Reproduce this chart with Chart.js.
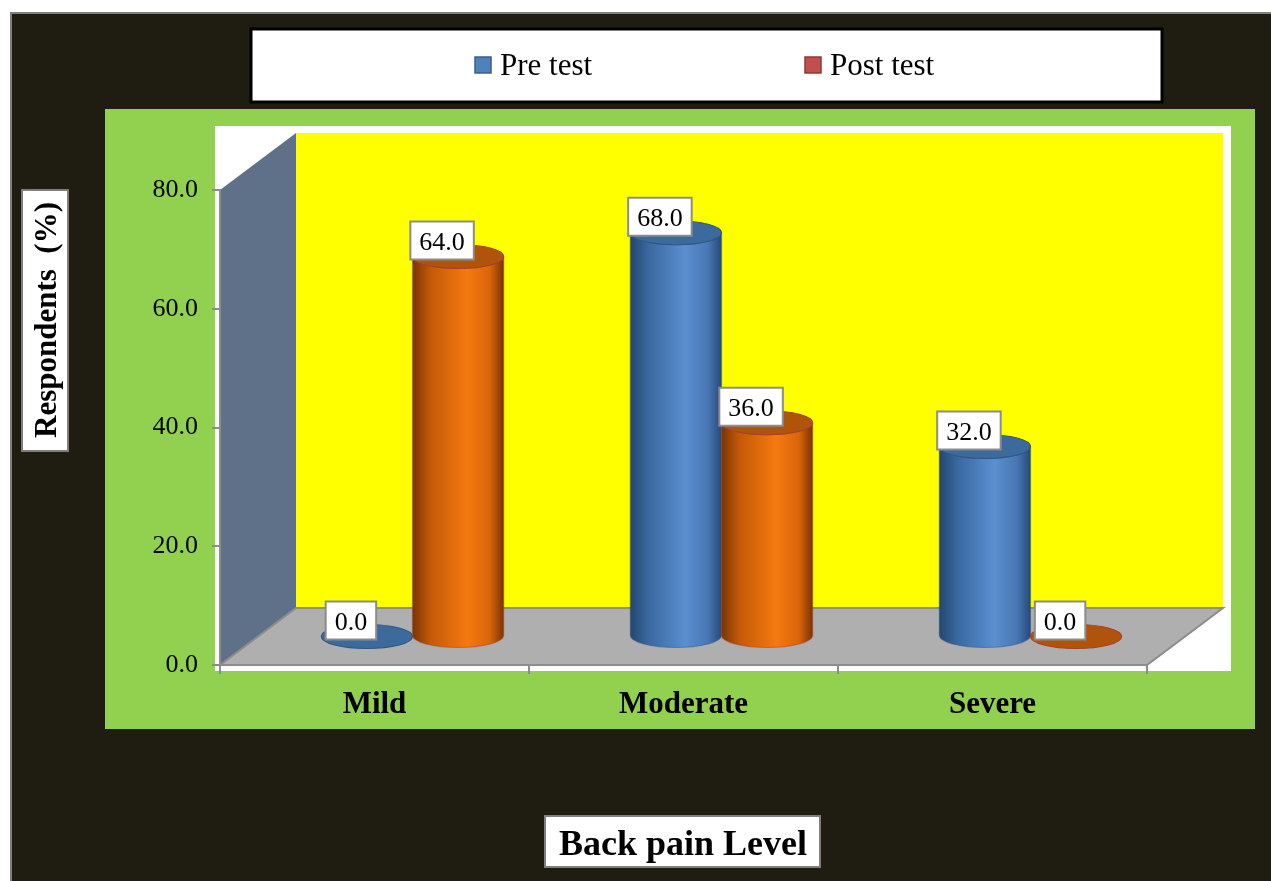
<!DOCTYPE html>
<html>
<head>
<meta charset="utf-8">
<script src="https://cdn.jsdelivr.net/npm/chart.js@4.4.0/dist/chart.umd.min.js"></script>
<style>
  html, body { margin: 0; padding: 0; background: #fff; }
  #wrap { position: relative; width: 1271px; height: 881px; }
</style>
</head>
<body>
<div id="wrap"><canvas id="myChart" width="1271" height="881"></canvas></div>
<script>
const categories = ['Mild', 'Moderate', 'Severe'];
const preTest = [0.0, 68.0, 32.0];
const postTest = [64.0, 36.0, 0.0];
const yTicks = [0, 20, 40, 60, 80];
const seriesNames = ['Pre test', 'Post test'];
const xTitle = 'Back pain Level';
const yTitle = 'Respondents  (%)';

const serif = '"Liberation Serif", "Times New Roman", serif';
const DX = 76, DY = 57; // depth of the 3d box

const looks = [
  { legend: '#4f81bd', legendEdge: '#385d8a', edge: '#2c5684', top: '#3d6a9d',
    stops: ['#25476f', '#3a68a0', '#5b8fd0', '#4877b4', '#28497a'] },
  { legend: '#c0504d', legendEdge: '#8c3836', edge: '#a5402a', top: '#b0540c',
    stops: ['#7a3405', '#c45a08', '#f5790f', '#d9650a', '#7a3305'] }
];

function drawCylinder(ctx, cx, top, base, rx, ry, look) {
  ctx.save();
  ctx.lineWidth = 1.2;
  ctx.strokeStyle = look.edge;
  if (base - top > 0.5) {
    const g = ctx.createLinearGradient(cx - rx, 0, cx + rx, 0);
    const pos = [0, 0.2, 0.6, 0.85, 1];
    look.stops.forEach((c, k) => g.addColorStop(pos[k], c));
    ctx.beginPath();
    ctx.moveTo(cx - rx, top);
    ctx.lineTo(cx - rx, base);
    ctx.ellipse(cx, base, rx, ry, 0, Math.PI, 0, true);
    ctx.lineTo(cx + rx, top);
    ctx.ellipse(cx, top, rx, ry, 0, 0, Math.PI, false);
    ctx.closePath();
    ctx.fillStyle = g;
    ctx.fill();
    ctx.globalAlpha = 0.5;
    ctx.stroke();
    ctx.globalAlpha = 1;
  }
  ctx.beginPath();
  ctx.ellipse(cx, top, rx, ry, 0, 0, Math.PI * 2);
  ctx.fillStyle = look.top;
  ctx.fill();
  ctx.stroke();
  ctx.restore();
}

const backdrop = {
  id: 'backdrop',
  beforeDraw(chart) {
    const { ctx, chartArea: a } = chart;
    ctx.save();
    // dark frame
    ctx.fillStyle = '#7f7f7f';
    ctx.fillRect(10, 12, 1261, 869);
    ctx.fillStyle = '#1f1c12';
    ctx.fillRect(12, 14, 1259, 867);
    // green band
    ctx.fillStyle = '#92d050';
    ctx.fillRect(105, 109, 1150, 620);
    // white plot area
    ctx.fillStyle = '#fff';
    ctx.fillRect(a.left - 5, a.top - DY - 7, a.right + DX + 8 - (a.left - 5), a.bottom + 6 - (a.top - DY - 7));
    // back wall
    ctx.fillStyle = '#ffff00';
    ctx.fillRect(a.left + DX, a.top - DY, a.right - a.left, a.bottom - a.top);
    // side wall
    ctx.fillStyle = '#5f7189';
    ctx.beginPath();
    ctx.moveTo(a.left, a.top);
    ctx.lineTo(a.left + DX, a.top - DY);
    ctx.lineTo(a.left + DX, a.bottom - DY);
    ctx.lineTo(a.left, a.bottom);
    ctx.closePath();
    ctx.fill();
    // floor
    ctx.fillStyle = '#afafaf';
    ctx.strokeStyle = '#8c8c8c';
    ctx.lineWidth = 2;
    ctx.beginPath();
    ctx.moveTo(a.left, a.bottom);
    ctx.lineTo(a.left + DX, a.bottom - DY);
    ctx.lineTo(a.right + DX, a.bottom - DY);
    ctx.lineTo(a.right, a.bottom);
    ctx.closePath();
    ctx.fill();
    ctx.stroke();
    ctx.restore();
  }
};

const cylinders = {
  id: 'cylinders',
  afterDatasetsDraw(chart) {
    const ctx = chart.ctx;
    const hx = DX / 2, hy = DY / 2;
    const tags = [];
    chart.data.datasets.forEach((ds, i) => {
      chart.getDatasetMeta(i).data.forEach((bar, j) => {
        const cx = bar.x + hx, top = bar.y - hy, base = bar.base - hy;
        drawCylinder(ctx, cx, top, base, bar.width / 2, 12, looks[i]);
        tags.push({ x: cx - 16, y: top - 16, text: ds.data[j].toFixed(1) });
      });
    });
    ctx.save();
    ctx.font = '26px ' + serif;
    ctx.textAlign = 'center';
    ctx.textBaseline = 'alphabetic';
    tags.forEach(t => {
      const w = ctx.measureText(t.text).width + 18, h = 38;
      ctx.fillStyle = '#fff';
      ctx.fillRect(t.x - w / 2, t.y - h / 2, w, h);
      ctx.strokeStyle = '#8c8c8c';
      ctx.lineWidth = 2;
      ctx.strokeRect(t.x - w / 2, t.y - h / 2, w, h);
      ctx.fillStyle = '#000';
      ctx.fillText(t.text, t.x, t.y + 9);
    });
    ctx.restore();
  }
};

const extras = {
  id: 'extras',
  afterDraw(chart) {
    const ctx = chart.ctx;
    ctx.save();
    // legend box
    ctx.fillStyle = '#fff';
    ctx.fillRect(251, 29, 911, 73);
    ctx.strokeStyle = '#000';
    ctx.lineWidth = 3;
    ctx.strokeRect(251, 29, 911, 73);
    ctx.font = '31px ' + serif;
    ctx.textBaseline = 'alphabetic';
    ctx.textAlign = 'left';
    const lx = [475, 805];
    chart.data.datasets.forEach((ds, i) => {
      ctx.fillStyle = looks[i].legend;
      ctx.fillRect(lx[i], 57, 16, 16);
      ctx.strokeStyle = looks[i].legendEdge;
      ctx.lineWidth = 1.5;
      ctx.strokeRect(lx[i], 57, 16, 16);
      ctx.fillStyle = '#000';
      ctx.fillText(ds.label, lx[i] + 25, 75);
    });
    // axis titles
    ctx.fillStyle = '#fff';
    ctx.fillRect(22, 190, 46, 261);
    ctx.strokeStyle = '#7f7f7f';
    ctx.lineWidth = 2;
    ctx.strokeRect(22, 190, 46, 261);
    ctx.fillRect(545, 816, 275, 51);
    ctx.strokeRect(545, 816, 275, 51);
    ctx.fillStyle = '#000';
    ctx.textAlign = 'center';
    ctx.font = 'bold 36px ' + serif;
    ctx.fillText(xTitle, 683, 855);
    ctx.translate(45, 320);
    ctx.rotate(-Math.PI / 2);
    ctx.font = 'bold 31px ' + serif;
    ctx.fillText(yTitle, 0, 11);
    ctx.restore();
  }
};

function createChart() {
  const ctx = document.getElementById('myChart');
  new Chart(ctx, {
    type: 'bar',
    data: {
      labels: categories,
      datasets: [
        { label: seriesNames[0], data: preTest, backgroundColor: 'transparent', borderWidth: 0 },
        { label: seriesNames[1], data: postTest, backgroundColor: 'transparent', borderWidth: 0 }
      ]
    },
    options: {
      responsive: false,
      animation: false,
      events: [],
      layout: { padding: { top: 190, right: 124, bottom: 0, left: 0 } },
      datasets: { bar: { categoryPercentage: 0.59, barPercentage: 1 } },
      plugins: { legend: { display: false }, tooltip: { enabled: false } },
      scales: {
        x: {
          afterFit(scale) { scale.height = 216; },
          ticks: { font: { family: serif, size: 31, weight: 'bold' }, color: '#000', padding: 12 },
          grid: { drawOnChartArea: false, color: '#8c8c8c', tickLength: 9, lineWidth: 2, offset: true },
          border: { color: '#8c8c8c', width: 2 }
        },
        y: {
          min: 0,
          max: 80,
          afterFit(scale) { scale.width = 220; },
          afterBuildTicks(scale) { scale.ticks = yTicks.map(v => ({ value: v })); },
          ticks: { callback: v => v.toFixed(1), font: { family: serif, size: 26 }, color: '#000', padding: 14 },
          grid: { drawOnChartArea: false, color: '#8c8c8c', tickLength: 8, lineWidth: 2 },
          border: { color: '#8c8c8c', width: 2 }
        }
      }
    },
    plugins: [backdrop, cylinders, extras]
  });
}

createChart();
</script>
</body>
</html>
